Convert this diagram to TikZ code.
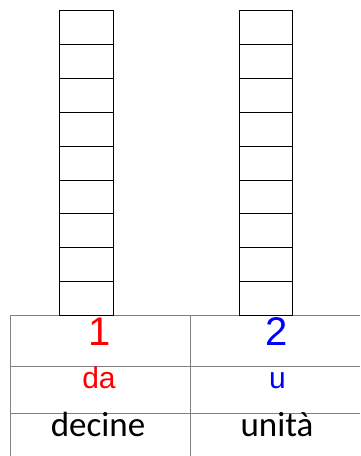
\documentclass[tikz,border=0pt]{standalone}
\usepackage{fontspec}
\setmainfont{Liberation Sans}
\newfontfamily\calibri{Carlito}

\begin{document}
\begin{tikzpicture}[x=1pt, y=-1pt,
  cell/.style={draw, line width=1pt, minimum width=53.3pt, minimum height=33.9pt, inner sep=0pt, anchor=north west},
  grid/.style={draw=black!50, line width=0.9pt}]
  \useasboundingbox (0,0) rectangle (360,456);

  % Table (cut off at the right and at the bottom)
  \draw[grid] (10.7,456) -- (10.7,315.7) -- (360,315.7);
  \draw[grid] (10.7,366.7) -- (360,366.7);
  \draw[grid] (10.7,413.3) -- (360,413.3);
  \draw[grid] (190,315.7) -- (190,456);

  % Columns of squares: tens (left) and units (right)
  \foreach \i in {0,...,8} {
    \node[cell] (da\i) at (59.3, 10+33.9*\i) {};
    \node[cell] (u\i) at (238.7, 10+33.9*\i) {};
  }

  % Digits
  \node[anchor=base, text=red, font=\fontsize{40}{40}\selectfont, inner sep=0pt] (uno) at (100,345) {1};
  \node[anchor=base, text=blue, font=\fontsize{40}{40}\selectfont, inner sep=0pt] (due) at (277,345) {2};

  % Abbreviations
  \node[anchor=base, text=red, font=\fontsize{30}{30}\selectfont, inner sep=0pt] (abbrda) at (99,388.5) {da};
  \node[anchor=base, text=blue, font=\fontsize{30}{30}\selectfont, inner sep=0pt] (abbru) at (277.5,388.5) {u};

  % Names
  \node[anchor=base, font=\calibri\fontsize{35}{35}\selectfont, inner sep=0pt] (decine) at (98,436) {decine};
  \node[anchor=base, font=\calibri\fontsize{35}{35}\selectfont, inner sep=0pt] (unita) at (277,436) {unità};
\end{tikzpicture}
\end{document}
